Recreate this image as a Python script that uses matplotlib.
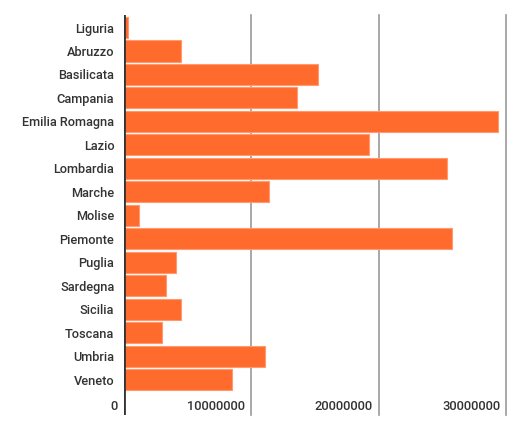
import matplotlib.pyplot as plt

# Regions and values
regions = ["Liguria", "Abruzzo", "Basilicata", "Campania", "Emilia Romagna", "Lazio",
           "Lombardia", "Marche", "Molise", "Piemonte", "Puglia", "Sardegna",
           "Sicilia", "Toscana", "Umbria", "Veneto"]
values = [340000, 4470000, 15250000, 13550000, 29350000, 19250000,
          25380000, 11380000, 1180000, 25770000, 4080000, 3270000,
          4470000, 2980000, 11070000, 8480000]
x_ticks = [0, 10000000, 20000000, 30000000]

plt.rcParams['font.family'] = ['Roboto', 'DejaVu Sans']

fig = plt.figure(figsize=(5.15, 4.30), dpi=100)
ax = fig.add_axes([124 / 515, 15 / 430, 384 / 515, 400 / 430])

pos = list(range(len(regions)))
ax.barh(pos, values, height=0.9, color="#ff6b2c", edgecolor="#ff9a70", linewidth=0.8, zorder=3)

ax.set_xlim(0, 30150000)
ax.set_ylim(16.51, -0.533)

# vertical gridlines
for t in x_ticks[1:]:
    ax.axvline(t, color="#999999", linewidth=1.2, zorder=1, clip_on=False)
ax.axvline(0, color="#333333", linewidth=2, zorder=4)

for s in ax.spines.values():
    s.set_visible(False)
ax.set_xticks([])
ax.set_yticks(pos)
ax.set_yticklabels(regions, fontsize=9.2, color="#333333", fontweight="medium")
ax.tick_params(axis="y", length=0, pad=7)

# x tick labels sit inside the plot, left of each gridline
for t in x_ticks:
    ax.annotate(f"{t}", xy=(t, 16.15), xytext=(-6, 0), textcoords="offset pixels",
                ha="right", va="center", fontsize=9.3, color="#333333",
                fontweight="medium", annotation_clip=False)

plt.savefig("out.png", dpi=100)
